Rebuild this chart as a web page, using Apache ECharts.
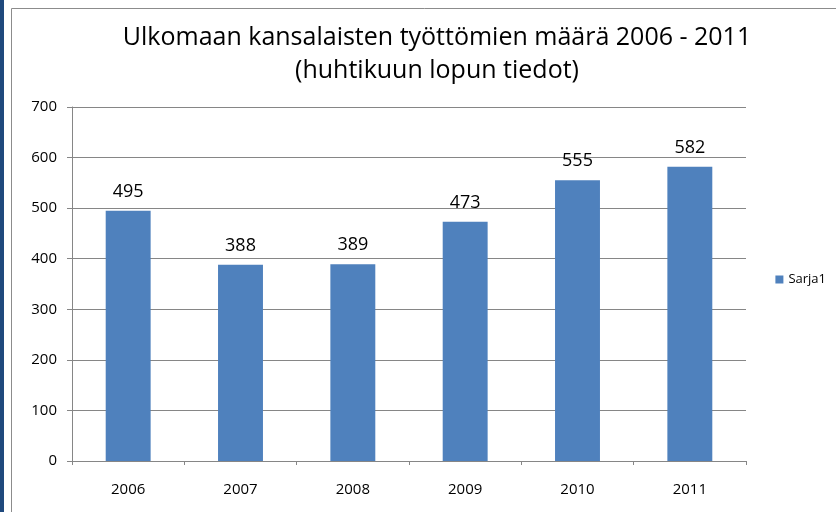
<!DOCTYPE html>
<html>
<head>
<meta charset="utf-8">
<script src="https://cdn.jsdelivr.net/npm/echarts@6/dist/echarts.min.js"></script>
<style>
  html, body { margin: 0; padding: 0; background: #fff; }
  #chart { width: 836px; height: 512px; }
</style>
</head>
<body>
<div id="chart"></div>
<script>
var years = ['2006', '2007', '2008', '2009', '2010', '2011'];
var unemployed = [495, 388, 389, 473, 555, 582];
var yTicks = [0, 100, 200, 300, 400, 500, 600, 700];
var seriesName = 'Sarja1';

var chart = echarts.init(document.getElementById('chart'));
var font = '"Open Sans", "DejaVu Sans", sans-serif';

var option = {
    animation: false,
    title: {
        text: 'Ulkomaan kansalaisten työttömien määrä 2006 - 2011\n(huhtikuun lopun tiedot)',
        left: 432, top: 16, textAlign: 'center',
        textStyle: { fontFamily: font, fontSize: 25, fontWeight: 'normal', color: '#000', lineHeight: 33 }
    },
    graphic: [
        // dark strip on the left edge
        { type: 'rect', shape: { x: 0, y: 0, width: 4, height: 512 }, style: { fill: '#1F497D' } },
        // chart frame
        { type: 'rect', shape: { x: 11.5, y: 8.5, width: 900, height: 600 },
          style: { fill: 'none', stroke: '#8c8c8c', lineWidth: 1 } }
    ],
    legend: {
        right: 5, top: 268,
        itemWidth: 8, itemHeight: 8, itemGap: 4,
        textStyle: { fontFamily: font, fontSize: 13, color: '#000' },
        data: [{ name: seriesName, icon: 'rect' }]
    },
    grid: { left: 72, right: 90, top: 107, bottom: 51 },
    xAxis: {
        type: 'category', data: years,
        axisLine: { lineStyle: { color: '#868686', width: 1 } },
        axisTick: { show: true, length: 4, lineStyle: { color: '#868686' } },
        axisLabel: { fontFamily: font, fontSize: 15, color: '#000', margin: 21 }
    },
    yAxis: {
        type: 'value', min: yTicks[0], max: yTicks[yTicks.length - 1], interval: 100,
        axisLine: { show: true, lineStyle: { color: '#868686', width: 1 } },
        axisTick: { show: true, length: 5, lineStyle: { color: '#868686' } },
        splitLine: { lineStyle: { color: '#868686', width: 1 } },
        axisLabel: { fontFamily: font, fontSize: 15, color: '#000', margin: 15 }
    },
    series: [{
        name: seriesName, type: 'bar', data: unemployed,
        barWidth: '40%',
        itemStyle: { color: '#4F81BD' },
        label: { show: true, position: 'top', distance: 10,
                 fontFamily: font, fontSize: 18, color: '#000' }
    }]
};
chart.setOption(option);
</script>
</body>
</html>
